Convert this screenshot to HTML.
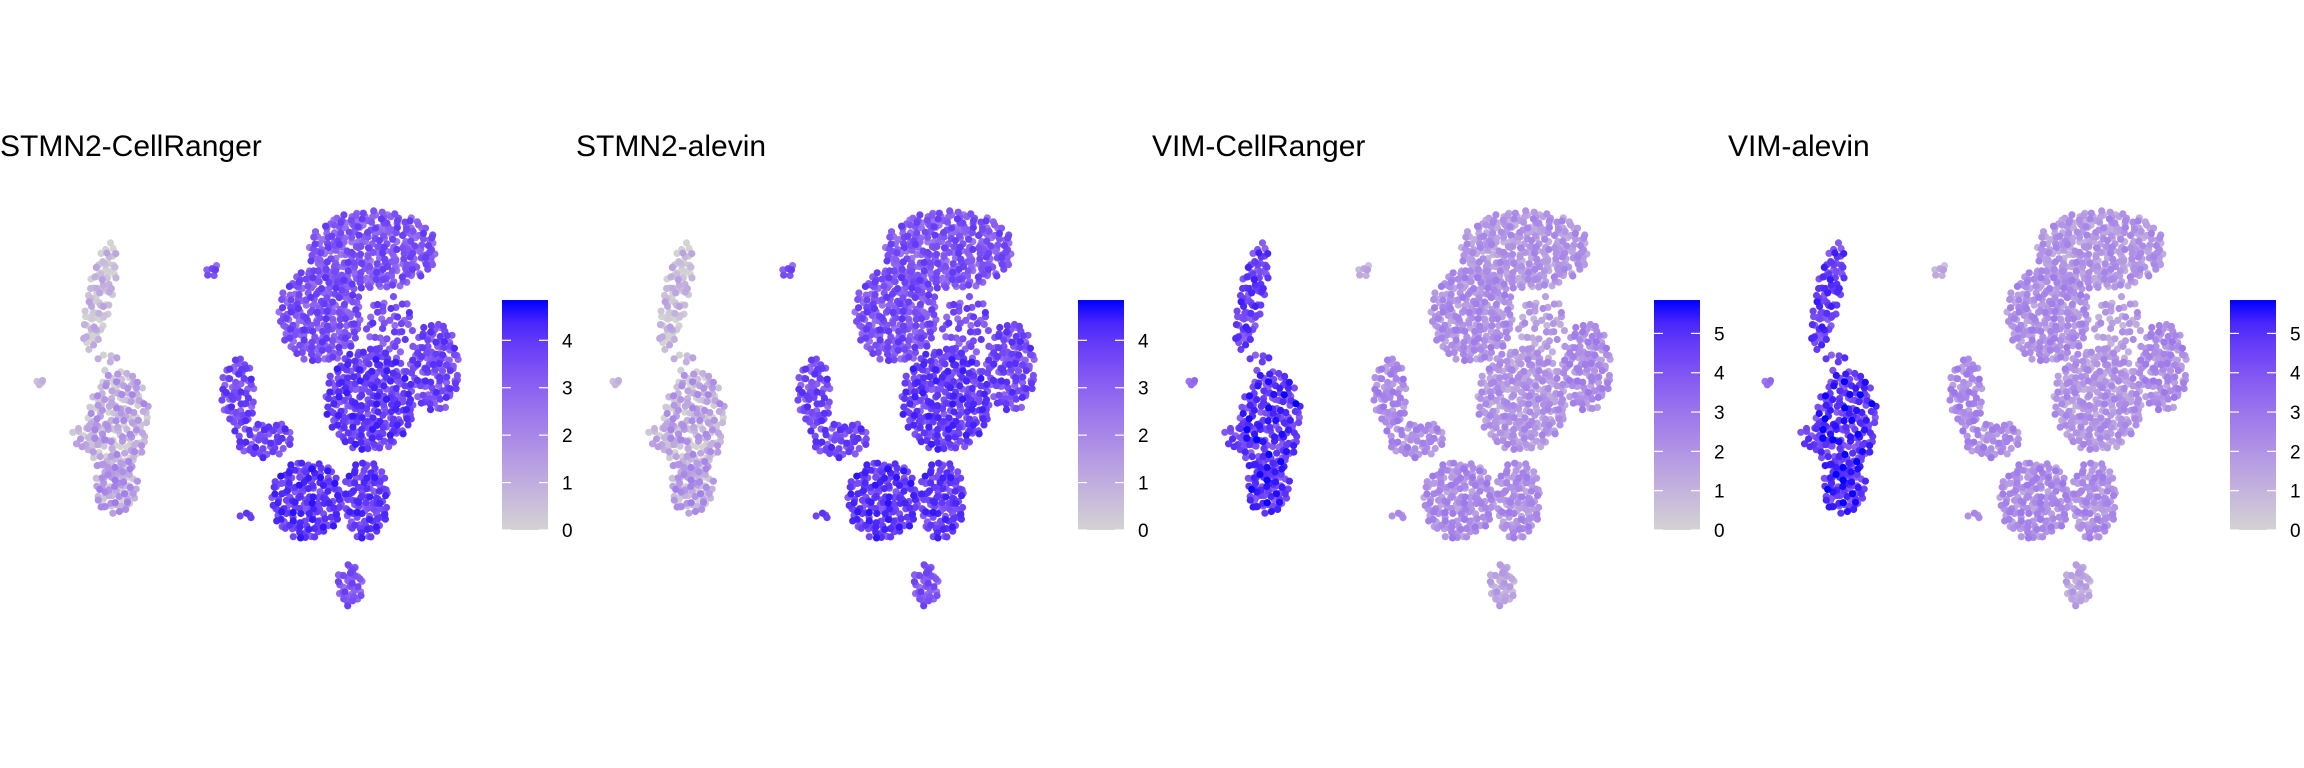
<!DOCTYPE html>
<html><head><meta charset="utf-8">
<style>
html,body{margin:0;padding:0;background:#fff;}
svg{display:block;font-family:"Liberation Sans",sans-serif;}
</style></head>
<body>
<svg id="fig" width="2304" height="768" viewBox="0 0 2304 768"></svg>
<script>
// ---- data ----
const panelTitles = ["STMN2-CellRanger","STMN2-alevin","VIM-CellRanger","VIM-alevin"];
const scaleMax = [4.85, 4.85, 5.85, 5.85];
const tickLabelsSTMN2 = [0,1,2,3,4];
const tickLabelsVIM = [0,1,2,3,4,5];
// cluster centres / extents in UMAP units
const clusterNames = ["A","Bridge","B1","B2","Bbulge","Bsmall","tiny","C","D","E","F","Conn","G1","G2","H","I","J","Gsmall"];
const clusterUx = [-7.0,-6.6,-6.1,-6.2,-7.6,-10.0,-1.4,6.65,4.0,9.75,6.5,7.5,-0.1,1.25,3.35,6.3,5.5,0.4];
const clusterUy = [5.2,2.0,-1.2,-4.4,-1.8,0.85,6.5,7.5,4.25,1.65,0.0,3.75,0.25,-2.0,-5.0,-5.0,-9.25,-5.8];
const clusterRx = [0.65,0.6,1.55,1.1,0.8,0.25,0.4,3.25,2.1,1.25,2.25,1.25,0.85,1.4,1.8,1.15,0.65,0.5];
const clusterRy = [2.8,0.6,2.7,1.3,0.7,0.15,0.3,2.0,2.4,2.25,2.6,1.5,1.9,0.9,2.0,2.0,1.1,0.15];
const clusterRot = [-12,0,-5,-8,0,0,20,0,0,0,0,0,0,10,0,0,0,0];
const clusterDensity = [0.9,0.35,0.85,1,0.7,1,1,0.9,0.9,0.9,0.9,0.5,0.85,0.85,0.95,0.95,1,1];
const exprSTMN2CR = [0.4,0.6,0.9,1.2,0.8,0.5,3.2,3.2,3.3,3.5,3.8,3.4,3.5,3.6,3.9,3.8,3.2,3.8];
const exprSTMN2AL = [0.4,0.6,0.9,1.1,0.8,0.5,3.2,3.2,3.3,3.5,3.8,3.4,3.5,3.6,3.9,3.8,3.2,3.8];
const exprVIMCR = [4.5,4.4,4.7,4.7,4.4,3.0,1.0,1.8,2.0,2.1,1.8,1.6,2.2,2.1,2.1,2.0,1.3,2.2];
const exprVIMAL = [4.6,4.5,4.8,4.8,4.5,3.0,1.0,1.8,2.0,2.1,1.8,1.6,2.2,2.1,2.1,2.0,1.3,2.2];
const exprSpread = [1.0,1.0,1.2,1.2,1.0,0.6,0.8,0.8,0.8,0.8,0.8,0.8,0.8,0.8,0.8,0.8,0.7,0.5];
const panelExpr = [exprSTMN2CR, exprSTMN2AL, exprVIMCR, exprVIMAL];

// ---- axes ----
const panelX = [0,576,1152,1728];
function xScale(p,u){return panelX[p]+240+20*u;}
function yScale(u){return 400-20*u;}
const barTop=300, barBottom=530;
function barY(p,v){return barBottom-(barBottom-barTop)*v/scaleMax[p];}

// Lab colour interpolation (lightgrey -> blue)
function s2l(c){c/=255;return c<=0.04045?c/12.92:Math.pow((c+0.055)/1.055,2.4);}
function l2s(c){c=c<=0.0031308?12.92*c:1.055*Math.pow(c,1/2.4)-0.055;return Math.round(Math.max(0,Math.min(1,c))*255);}
const Xn=0.95047,Yn=1,Zn=1.08883;
function fL(t){return t>0.008856?Math.cbrt(t):7.787*t+16/116;}
function fLi(t){return t>0.206893?t*t*t:(t-16/116)/7.787;}
function toLab(r,g,b){r=s2l(r);g=s2l(g);b=s2l(b);
  const X=0.4124*r+0.3576*g+0.1805*b,Y=0.2126*r+0.7152*g+0.0722*b,Z=0.0193*r+0.1192*g+0.9505*b;
  const fx=fL(X/Xn),fy=fL(Y/Yn),fz=fL(Z/Zn);return [116*fy-16,500*(fx-fy),200*(fy-fz)];}
function fromLab(L,a,b){const fy=(L+16)/116,fx=fy+a/500,fz=fy-b/200;
  const X=Xn*fLi(fx),Y=Yn*fLi(fy),Z=Zn*fLi(fz);
  const r=3.2406*X-1.5372*Y-0.4986*Z,g=-0.9689*X+1.8758*Y+0.0415*Z,bb=0.0557*X-0.2040*Y+1.0570*Z;
  return [l2s(r),l2s(g),l2s(bb)];}
const labLo=toLab(211,211,211), labHi=toLab(0,0,255);
function color(p,v){
  const t=Math.max(0,Math.min(1,v/scaleMax[p]));
  const c=fromLab(labLo[0]+(labHi[0]-labLo[0])*t,labLo[1]+(labHi[1]-labLo[1])*t,labLo[2]+(labHi[2]-labLo[2])*t);
  return `rgb(${c[0]},${c[1]},${c[2]})`;
}
function halton(i,b){let f=1,r=0;while(i>0){f/=b;r+=f*(i%b);i=Math.floor(i/b);}return r;}

const NS="http://www.w3.org/2000/svg";
const svg=document.getElementById('fig');
function mk(tag,attrs,parent){const e=document.createElementNS(NS,tag);for(const k in attrs)e.setAttribute(k,attrs[k]);(parent||svg).appendChild(e);return e;}

const defs=mk('defs',{});
for(let p=0;p<4;p++){
  const panel=mk('g',{});
  
  
  const title=mk('text',{x:panelX[p],y:156,'font-size':30,fill:'#000'},panel);
  title.textContent=panelTitles[p];
  
  

  const pts=[];
  const expr=panelExpr[p];
  for(let c=0;c<clusterNames.length;c++){
    const rxp=clusterRx[c]*20, ryp=clusterRy[c]*20;
    const n=Math.max(4,Math.round(Math.PI*rxp*ryp/26*clusterDensity[c]));
    const a=clusterRot[c]*Math.PI/180;
    for(let i=1;i<=n;i++){
      const rr=Math.sqrt(halton(i+c*7,2)), th=2*Math.PI*halton(i+c*7,3);
      const dx=rr*Math.cos(th)*clusterRx[c], dy=rr*Math.sin(th)*clusterRy[c];
      const ux=clusterUx[c]+dx*Math.cos(a)-dy*Math.sin(a);
      const uy=clusterUy[c]+dx*Math.sin(a)+dy*Math.cos(a);
      let v=expr[c]+exprSpread[c]*2*(halton(i+c*7,5)-0.5);
      v=Math.max(0,v);
      pts.push([ux,uy,v]);
    }
  }
  pts.sort((a,b)=>a[2]-b[2]);
  const g=mk('g',{},panel);
  
  
  for(const q of pts){
    const c=mk('circle',{cx:xScale(p,q[0]).toFixed(1),cy:yScale(q[1]).toFixed(1),r:3.6,fill:color(p,q[2])},g);
    
    
  }

  const gid='grad'+p;
  const lg=mk('linearGradient',{id:gid,x1:0,y1:1,x2:0,y2:0},defs);
  for(let s=0;s<=10;s++){
    mk('stop',{offset:s/10,'stop-color':color(p,scaleMax[p]*s/10)},lg);
  }
  const bx=panelX[p]+502;
  const bar=mk('rect',{x:bx,y:barTop,width:46,height:barBottom-barTop,fill:`url(#${gid})`},panel);
  
  
  const ticks=p<2?tickLabelsSTMN2:tickLabelsVIM;
  for(const t of ticks){
    const y=barY(p,t);
    mk('line',{x1:bx,x2:bx+9,y1:y,y2:y,stroke:'#fff','stroke-width':1.2},panel);
    mk('line',{x1:bx+37,x2:bx+46,y1:y,y2:y,stroke:'#fff','stroke-width':1.2},panel);
    const lab=mk('text',{x:bx+60,y:y+7,'font-size':19,fill:'#000'},panel);
    lab.textContent=t;
    
    
  }
}
</script>
</body></html>
